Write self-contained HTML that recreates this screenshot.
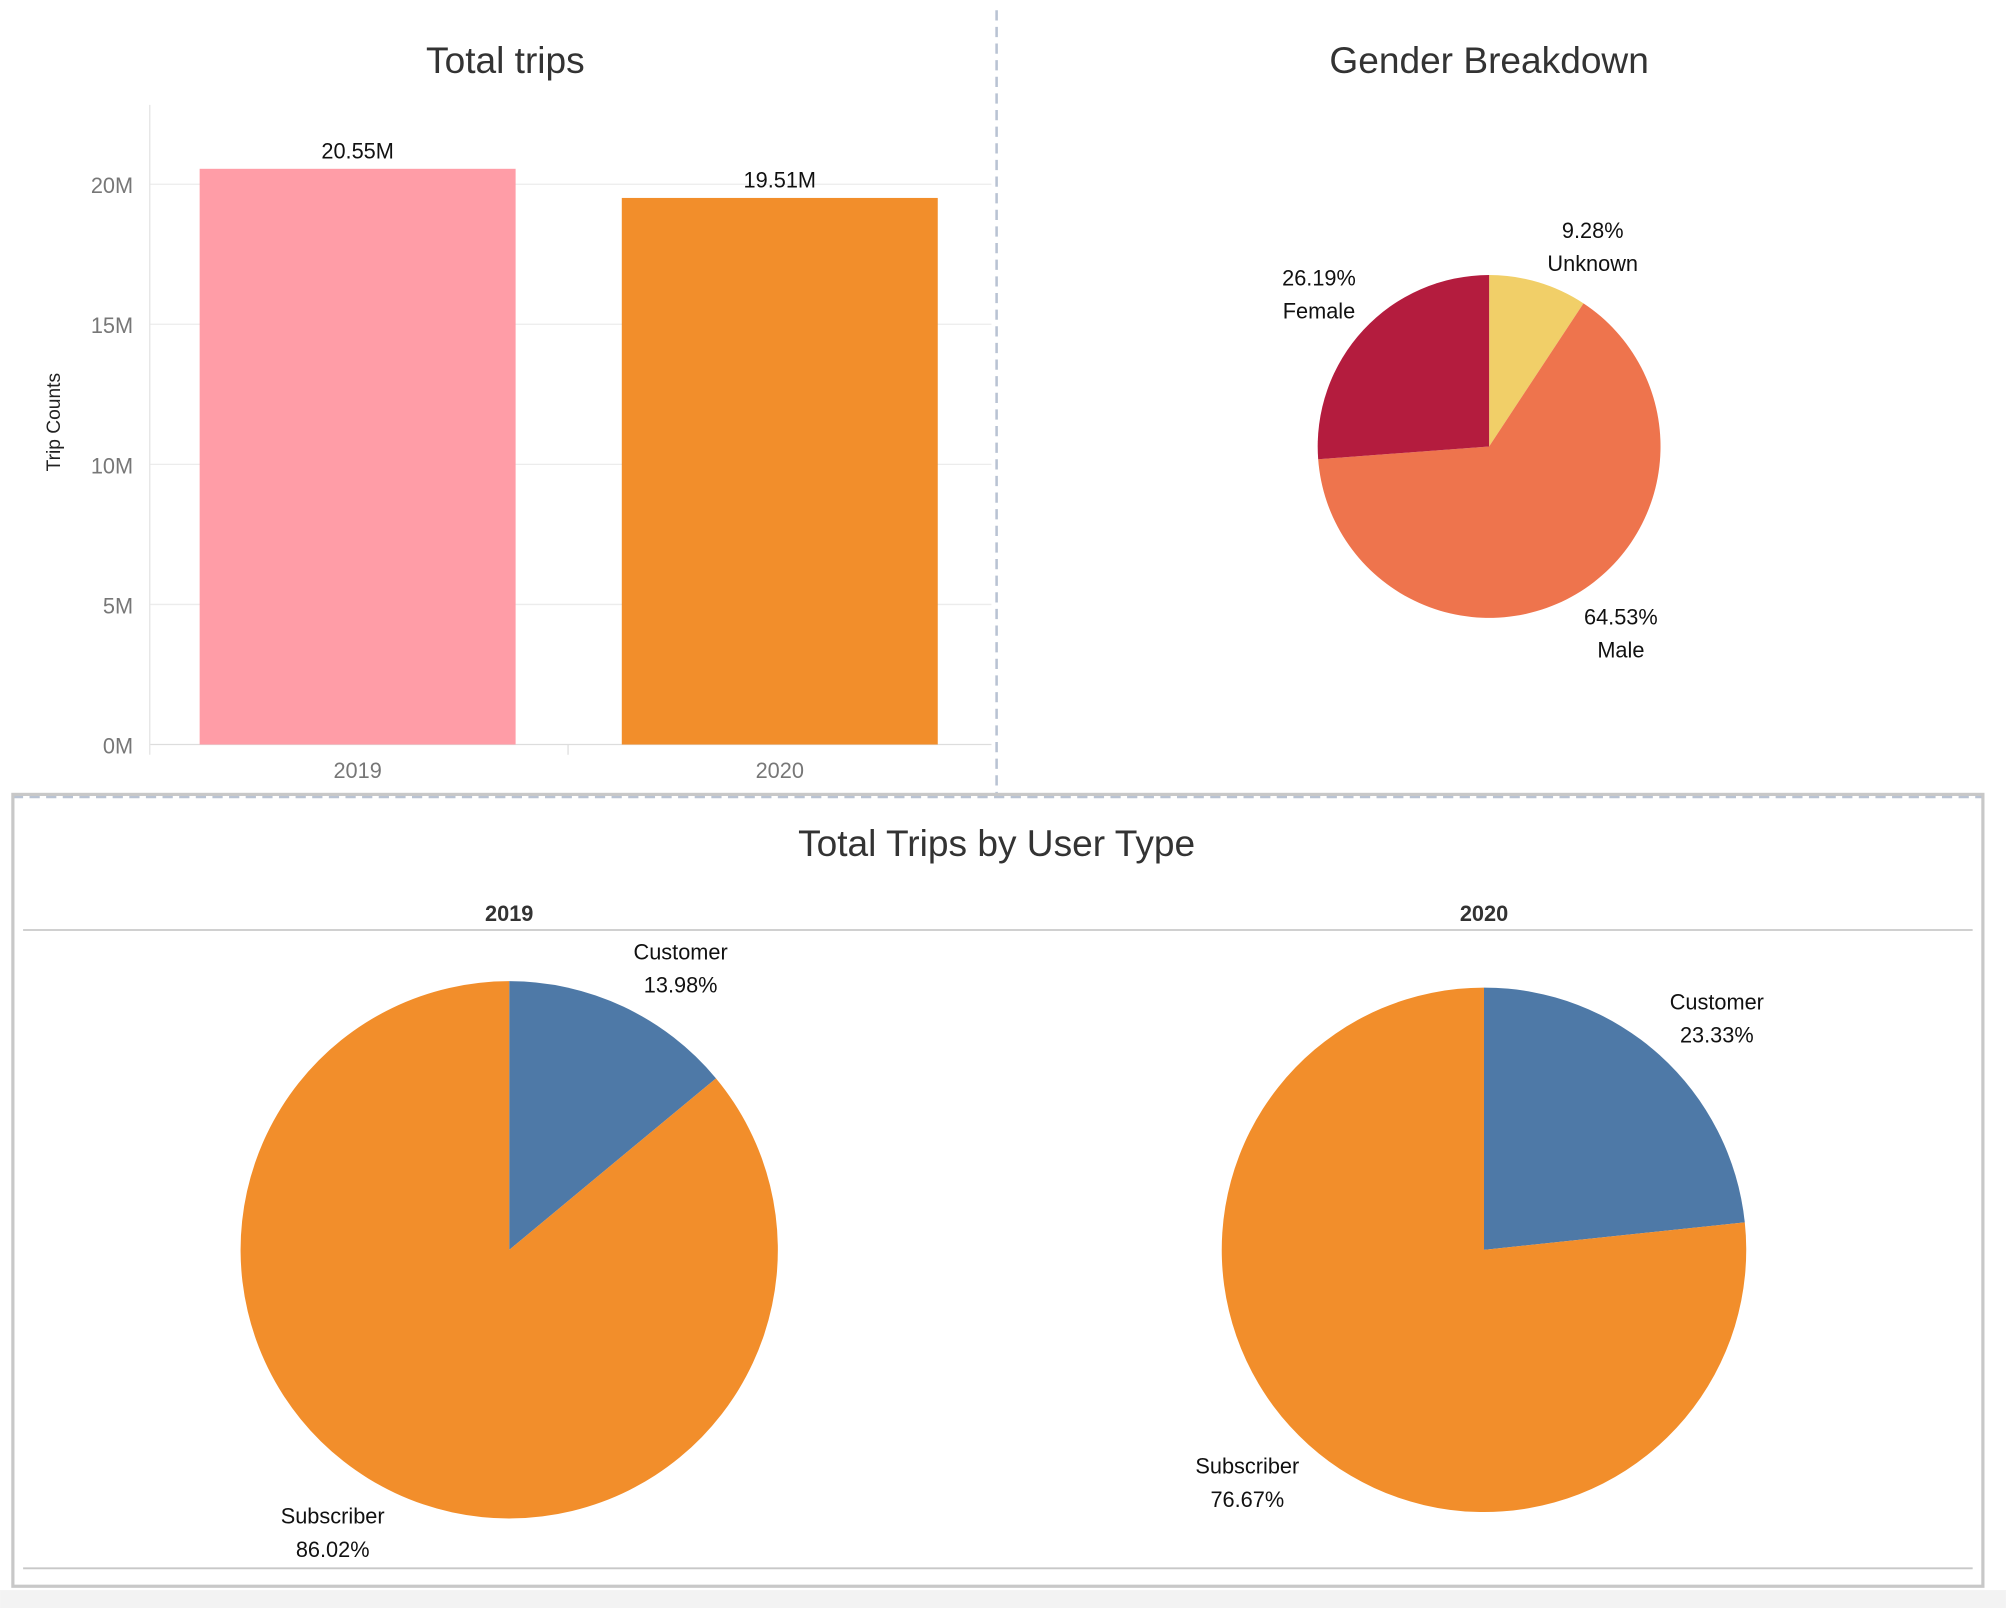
<!DOCTYPE html>
<html><head><meta charset="utf-8"><style>
html,body{margin:0;padding:0;background:#fff;}
svg{display:block;font-family:"Liberation Sans","DejaVu Sans",sans-serif;}
</style></head><body>
<svg id="c" width="2006" height="1608" viewBox="0 0 1568 1257">
<rect x="0" y="0" width="1568" height="1257" fill="#fff"/>
<rect x="0" y="1243" width="1568" height="14" fill="#f3f3f3"/>
<line x1="779" y1="8" x2="779" y2="620" stroke="#b9c3d3" stroke-width="2" stroke-dasharray="8,5"/>
<line x1="10" y1="623" x2="1550" y2="623" stroke="#b9c3d3" stroke-width="2" stroke-dasharray="8,5"/>
<text x="395" y="57" font-size="29" fill="#333" text-anchor="middle">Total trips</text>
<text x="1164" y="57" font-size="29" fill="#333" text-anchor="middle">Gender Breakdown</text>
<g id="bars"></g>
<g id="gender"></g>
<rect x="10" y="621" width="1540" height="619" fill="none" stroke="#c8c8c8" stroke-width="2.5"/>
<text x="779" y="669" font-size="29" fill="#333" text-anchor="middle">Total Trips by User Type</text>
<text x="398" y="720" font-size="17" font-weight="bold" fill="#333" text-anchor="middle">2019</text>
<text x="1160" y="720" font-size="17" font-weight="bold" fill="#333" text-anchor="middle">2020</text>
<line x1="18" y1="727" x2="1542" y2="727" stroke="#d0d0d0" stroke-width="1.5"/>
<line x1="18" y1="1226" x2="1542" y2="1226" stroke="#c8c8c8" stroke-width="1.5"/>
<g id="user"></g>
</svg>
<script>
const NS='http://www.w3.org/2000/svg';
function mk(tag,attrs,parent,txt){const e=document.createElementNS(NS,tag);for(const k in attrs)e.setAttribute(k,attrs[k]);if(txt!==undefined)e.textContent=txt;parent.appendChild(e);return e;}
// Bar chart data
const years=['2019','2020'];
const trips=[20.55,19.51];
const tripLabels=['20.55M','19.51M'];
const yTicks=[0,5,10,15,20];
const barColors=['#ff9da7','#f28e2b'];
// Gender data
const genders=['Unknown','Male','Female'];
const genderPct=[9.28,64.53,26.19];
const genderColors=['#f1cf68','#ee744d','#b41c3e'];
// User type data
const userYears=['2019','2020'];
const userTypes=['Customer','Subscriber'];
const customerPct=[13.98,23.33];
const subscriberPct=[86.02,76.67];
const userColors=['#4e79a7','#f28e2b'];

const bars=document.getElementById('bars');
const y0=582,yTop=144;
const yS=v=>y0-(v/20)*(y0-yTop);
yTicks.forEach(t=>{
 const l=mk('line',{x1:117,x2:775,y1:yS(t),y2:yS(t),stroke:t===0?'#ddd':'#ececec','stroke-width':1},bars);
 
 
 const tx=mk('text',{x:104,y:yS(t)+7,'font-size':17,fill:'#777','text-anchor':'end'},bars,t+'M');
 
 
});
const ax=mk('line',{x1:117,x2:117,y1:82,y2:590,stroke:'#e4e4e4','stroke-width':1},bars);


const yt=mk('text',{x:0,y:0,'font-size':15,fill:'#222','text-anchor':'middle',transform:'translate(47,330) rotate(-90)'},bars,'Trip Counts');


const bw=247,slot=330;
years.forEach((yr,i)=>{
 const x=156+i*slot;
 const r=mk('rect',{x:x,y:yS(trips[i]),width:bw,height:y0-yS(trips[i]),fill:barColors[i]},bars);
 
 
 const lb=mk('text',{x:x+bw/2,y:yS(trips[i])-8,'font-size':17,fill:'#111','text-anchor':'middle'},bars,tripLabels[i]);
 
 
 const xl=mk('text',{x:x+bw/2,y:608,'font-size':17,fill:'#777','text-anchor':'middle'},bars,yr);
 
 
});
const sep=mk('line',{x1:444,x2:444,y1:582,y2:590,stroke:'#ddd'},bars);



function pie(g,cx,cy,r,vals,cols,names,prefix){
 let a=0;const tot=vals.reduce((s,v)=>s+v,0);
 vals.forEach((v,i)=>{
  const a1=a+v/tot*2*Math.PI;
  const p=(ang)=>[cx+r*Math.sin(ang),cy-r*Math.cos(ang)];
  const [x0,y0_]=p(a),[x1,y1]=p(a1);
  const d=`M${cx},${cy}L${x0},${y0_}A${r},${r} 0 ${a1-a>Math.PI?1:0} 1 ${x1},${y1}Z`;
  const s=mk('path',{d:d,fill:cols[i]},g);
  
  
  a=a1;
 });
}
function label(g,x,y,l1,l2,name){
 const t1=mk('text',{x:x,y:y,'font-size':17,fill:'#111','text-anchor':'middle'},g,l1);
 
 
 const t2=mk('text',{x:x,y:y+26,'font-size':17,fill:'#111','text-anchor':'middle'},g,l2);
 
 
}
const gg=document.getElementById('gender');
pie(gg,1164,349,134,genderPct,genderColors,genders,'gender');
label(gg,1245,186,genderPct[0].toFixed(2)+'%','Unknown','gender-unknown');
label(gg,1267,488,genderPct[1].toFixed(2)+'%','Male','gender-male');
label(gg,1031,223,genderPct[2].toFixed(2)+'%','Female','gender-female');

const ug=document.getElementById('user');
const centers=[[398,977,210],[1160,977,205]];
userYears.forEach((yr,i)=>{
 const [cx,cy,r]=centers[i];
 pie(ug,cx,cy,r,[customerPct[i],subscriberPct[i]],userColors,userTypes,'pie-'+yr);
});
label(ug,532,750,'Customer',customerPct[0].toFixed(2)+'%','customer-2019');
label(ug,260,1191,'Subscriber',subscriberPct[0].toFixed(2)+'%','subscriber-2019');
label(ug,1342,789,'Customer',customerPct[1].toFixed(2)+'%','customer-2020');
label(ug,975,1152,'Subscriber',subscriberPct[1].toFixed(2)+'%','subscriber-2020');
</script>
</body></html>
